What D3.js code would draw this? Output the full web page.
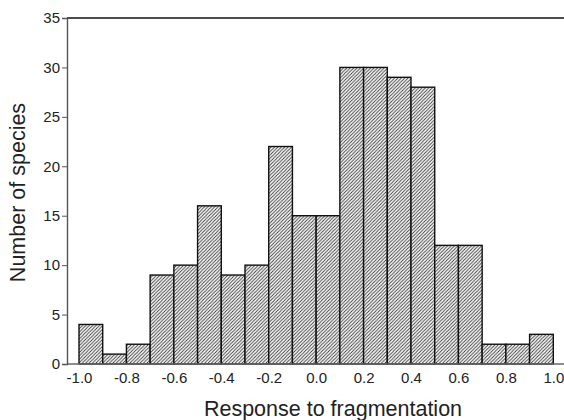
<!DOCTYPE html>
<html><head><meta charset="utf-8">
<script src="https://cdn.jsdelivr.net/npm/d3@7"></script>
<style>body{margin:0;background:#fff}svg{display:block}text{font-family:"Liberation Sans",Arial,sans-serif;fill:#222}</style>
</head><body>
<script>
const binStarts = [-1.0,-0.9,-0.8,-0.7,-0.6,-0.5,-0.4,-0.3,-0.2,-0.1,0.0,0.1,0.2,0.3,0.4,0.5,0.6,0.7,0.8,0.9];
const counts = [4,1,2,9,10,16,9,10,22,15,15,30,30,29,28,12,12,2,2,3];
const binWidth = 0.1;
const xTicks = [-1.0,-0.8,-0.6,-0.4,-0.2,0.0,0.2,0.4,0.6,0.8,1.0];
const yTicks = [0,5,10,15,20,25,30,35];
const xTitle = "Response to fragmentation";
const yTitle = "Number of species";

const W=564,H=420;
const svg=d3.select("body").append("svg").attr("width",W).attr("height",H);
const x=d3.scaleLinear().domain([-1,1]).range([79,553.3]);
const y=d3.scaleLinear().domain([0,35]).range([364,18]);

const defs=svg.append("defs");
const S=3.4;
const pat=defs.append("pattern").attr("id","hatch").attr("patternUnits","userSpaceOnUse")
  .attr("width",S).attr("height",S);
pat.append("rect").attr("width",S).attr("height",S).attr("fill","#fff");
pat.append("path").attr("d",`M${-S/2},${S/2} L${S/2},${-S/2} M0,${S} L${S},0 M${S/2},${1.5*S} L${1.5*S},${S/2}`)
  .attr("stroke","#333").attr("stroke-width",0.9);

// bars
svg.append("g").selectAll("rect").data(binStarts).join("rect")
  .attr("x",(d)=>x(d))
  .attr("width",(d)=>x(d+binWidth)-x(d))
  .attr("y",(d,i)=>y(counts[i]))
  .attr("height",(d,i)=>y(0)-y(counts[i]))
  .attr("fill","url(#hatch)").attr("stroke","#111").attr("stroke-width",1.4);

// frame lines
svg.append("line").attr("x1",67).attr("x2",564).attr("y1",18).attr("y2",18).attr("stroke","#111").attr("stroke-width",1.4);
svg.append("line").attr("x1",67).attr("x2",564).attr("y1",364).attr("y2",364).attr("stroke","#666").attr("stroke-width",1.4);

const fmt = d => d3.format(".1f")(d).replace("\u2212","-");

// y axis
const ya=svg.append("g").attr("transform","translate(67,0)")
  .call(d3.axisLeft(y).tickValues(yTicks).tickSize(5).tickPadding(2).tickFormat(d3.format("d")));
ya.select(".domain").attr("stroke","#555").attr("stroke-width",1.4);
ya.selectAll(".tick line").attr("stroke","#555");
ya.selectAll(".tick text").attr("font-size",15).attr("font-family","Liberation Sans, Arial, sans-serif").attr("fill","#222");

// x axis labels
const xa=svg.append("g").attr("transform","translate(0,364)")
  .call(d3.axisBottom(x).tickValues(xTicks).tickSize(0).tickPadding(8).tickFormat(fmt));
xa.select(".domain").remove();
xa.selectAll(".tick text").attr("font-size",15).attr("font-family","Liberation Sans, Arial, sans-serif").attr("fill","#222");

svg.append("text").attr("x",333).attr("y",416).attr("text-anchor","middle").attr("font-size",21.5).text(xTitle);
svg.append("text").attr("transform","translate(25,192.5) rotate(-90)").attr("text-anchor","middle").attr("font-size",21.5).text(yTitle);
</script>
</body></html>
